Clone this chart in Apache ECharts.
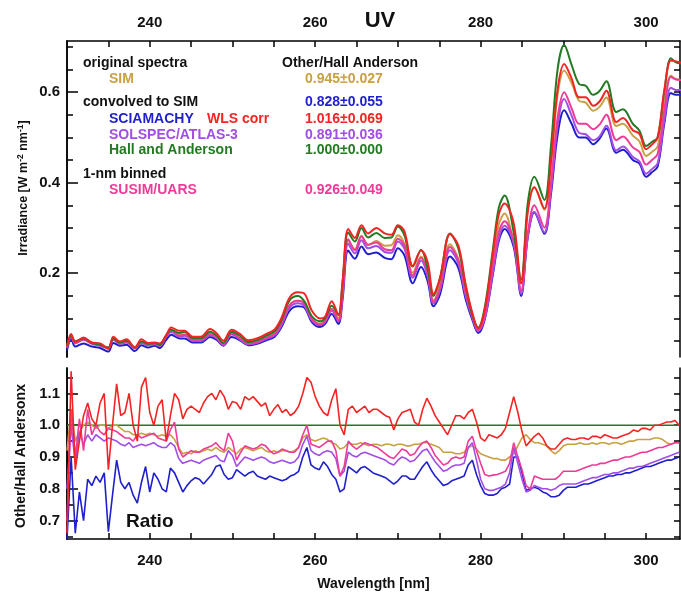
<!DOCTYPE html>
<html>
<head>
<meta charset="utf-8">
<script src="https://cdn.jsdelivr.net/npm/echarts/dist/echarts.min.js"></script>
<style>
html,body{margin:0;padding:0;background:#fff;}
#chart{width:681px;height:592px;}
</style>
</head>
<body>
<div id="chart"></div>
<script>
// ---------- DATA ----------
const topWl = [230,230.5,231,232,233,234,235,235.6,236.4,237.2,
238.2,239,239.8,240.6,241.2,242,242.6,243.6,244.2,245.2,
246.2,247.3,248.1,248.9,249.9,250.9,251.9,253.1,254.1,255.1,
255.9,256.9,257.9,258.7,259.6,260.6,261.2,262,262.8,263.3,
264,264.8,265.6,266.4,267.4,268.4,269.2,270,270.8,271.8,
272.8,273.6,274.3,275.1,276.3,277.3,278.2,279,279.7,280.5,
281.5,282.2,282.9,284,284.9,285.7,286.5,287.7,288.5,289.3,
290.1,291,291.9,292.7,293.6,294.4,295.2,296.4,297.2,298.4,
299.2,300,300.7,301.4,302.2,303,303.6,304.3];

const irrHA = [0.040,0.062,0.050,0.056,0.046,0.042,0.036,0.056,0.047,0.051,
0.036,0.049,0.044,0.046,0.042,0.064,0.075,0.068,0.071,0.057,
0.057,0.071,0.062,0.046,0.071,0.062,0.048,0.053,0.062,0.072,
0.095,0.140,0.150,0.138,0.105,0.094,0.101,0.128,0.108,0.180,
0.290,0.270,0.300,0.279,0.289,0.278,0.279,0.303,0.283,0.215,
0.252,0.210,0.150,0.190,0.288,0.255,0.170,0.108,0.080,0.125,
0.255,0.345,0.372,0.290,0.186,0.355,0.413,0.362,0.480,0.650,
0.704,0.660,0.618,0.614,0.594,0.603,0.624,0.556,0.562,0.530,
0.515,0.481,0.490,0.500,0.600,0.675,0.666,0.663];

const irrWLS = [0.038,0.066,0.048,0.058,0.047,0.045,0.033,0.060,0.049,0.054,
0.036,0.054,0.046,0.047,0.045,0.063,0.080,0.073,0.073,0.060,
0.060,0.077,0.067,0.051,0.075,0.066,0.052,0.057,0.066,0.076,
0.100,0.146,0.158,0.155,0.117,0.100,0.104,0.138,0.108,0.178,
0.298,0.278,0.306,0.288,0.300,0.288,0.285,0.306,0.292,0.216,
0.250,0.224,0.154,0.190,0.286,0.262,0.174,0.112,0.078,0.119,
0.246,0.330,0.354,0.310,0.178,0.335,0.390,0.343,0.446,0.605,
0.662,0.630,0.589,0.589,0.570,0.580,0.603,0.534,0.543,0.516,
0.508,0.474,0.484,0.500,0.604,0.670,0.668,0.665];

const irrSIM = [0.037,0.062,0.048,0.056,0.046,0.042,0.035,0.056,0.046,0.050,
0.035,0.047,0.043,0.045,0.041,0.062,0.072,0.064,0.065,0.052,
0.053,0.065,0.057,0.042,0.065,0.057,0.045,0.049,0.057,0.066,
0.087,0.129,0.139,0.133,0.100,0.089,0.097,0.121,0.100,0.167,
0.273,0.253,0.283,0.262,0.271,0.261,0.262,0.284,0.265,0.201,
0.237,0.198,0.140,0.176,0.264,0.232,0.156,0.101,0.074,0.113,
0.228,0.308,0.332,0.265,0.178,0.344,0.390,0.340,0.442,0.594,
0.648,0.620,0.581,0.577,0.559,0.568,0.588,0.525,0.530,0.504,
0.491,0.459,0.468,0.480,0.573,0.636,0.629,0.627];

const irrSUSIM = [0.036,0.062,0.046,0.054,0.045,0.041,0.035,0.055,0.045,0.049,
0.035,0.047,0.043,0.045,0.040,0.061,0.074,0.062,0.064,0.053,
0.053,0.066,0.058,0.043,0.068,0.056,0.045,0.049,0.058,0.066,
0.088,0.129,0.139,0.133,0.099,0.087,0.095,0.121,0.095,0.152,
0.275,0.251,0.281,0.263,0.268,0.253,0.251,0.276,0.261,0.195,
0.234,0.199,0.137,0.168,0.258,0.229,0.155,0.104,0.074,0.106,
0.215,0.291,0.315,0.270,0.162,0.287,0.350,0.301,0.398,0.543,
0.600,0.564,0.530,0.530,0.518,0.529,0.550,0.494,0.502,0.478,
0.468,0.440,0.450,0.464,0.558,0.634,0.628,0.627];

const irrSOLSPEC = [0.035,0.060,0.045,0.053,0.044,0.040,0.034,0.053,0.044,0.047,
0.034,0.046,0.041,0.043,0.039,0.060,0.070,0.060,0.062,0.051,
0.050,0.063,0.056,0.041,0.065,0.054,0.043,0.047,0.055,0.063,
0.084,0.124,0.134,0.128,0.096,0.085,0.092,0.117,0.094,0.150,
0.265,0.244,0.273,0.255,0.260,0.247,0.245,0.270,0.254,0.190,
0.228,0.193,0.133,0.163,0.251,0.223,0.150,0.102,0.072,0.100,
0.204,0.278,0.305,0.265,0.155,0.281,0.336,0.290,0.383,0.525,
0.585,0.548,0.510,0.507,0.494,0.503,0.526,0.471,0.480,0.457,
0.447,0.420,0.430,0.443,0.537,0.610,0.605,0.605];

const irrSCIA = [0.030,0.055,0.038,0.045,0.038,0.035,0.027,0.046,0.040,0.042,
0.028,0.041,0.036,0.040,0.035,0.053,0.064,0.056,0.056,0.047,
0.047,0.059,0.053,0.040,0.059,0.052,0.041,0.045,0.052,0.060,
0.080,0.117,0.127,0.124,0.092,0.081,0.088,0.110,0.088,0.140,
0.250,0.232,0.259,0.242,0.246,0.234,0.231,0.255,0.239,0.178,
0.214,0.182,0.127,0.154,0.237,0.212,0.142,0.097,0.068,0.098,
0.199,0.272,0.298,0.258,0.150,0.280,0.334,0.287,0.374,0.505,
0.560,0.530,0.500,0.500,0.485,0.498,0.520,0.466,0.473,0.450,
0.442,0.413,0.423,0.436,0.530,0.598,0.594,0.594];

const ratioWl = [230,230.5,231,231.5,232,232.5,233,233.5,234,234.5,
235,235.5,236,236.5,237,237.5,238,238.5,239,239.5,
240,240.5,241,241.5,242,242.5,243,243.5,244,244.5,
245,245.5,246,246.5,247,247.5,248,248.5,249,249.5,
250,250.5,251,251.5,252,252.5,253,253.5,254,254.5,
255,255.5,256,256.5,257,257.5,258,258.5,259,259.5,
260,260.5,261,261.5,262,262.5,263,263.5,264,264.5,
265,265.5,266,266.5,267,267.5,268,268.5,269,269.5,
270,270.5,271,271.5,272,272.5,273,273.5,274,274.5,
275,275.5,276,276.5,277,277.5,278,278.5,279,279.5,
280,280.5,281,281.5,282,282.5,283,283.5,284,284.5,
285,285.5,286,286.5,287,287.5,288,288.5,289,289.5,
290,290.5,291,291.5,292,292.5,293,293.5,294,294.5,
295,295.5,296,296.5,297,297.5,298,298.5,299,299.5,
300,300.5,301,301.5,302,302.5,303,303.5,304];

const ratioWLS = [0.66,1.17,0.86,0.95,1.03,1.07,1.02,1.0,1.07,1.10,
0.86,1.0,1.13,1.03,1.04,1.10,1.0,0.95,1.12,1.15,
1.04,1.0,1.06,1.08,0.95,1.03,1.10,1.08,1.02,1.05,
1.06,1.05,1.04,1.07,1.09,1.10,1.08,1.11,1.09,1.05,
1.075,1.07,1.05,1.09,1.08,1.09,1.075,1.06,1.07,1.03,
1.05,1.065,1.04,1.05,1.03,1.04,1.06,1.10,1.15,1.135,
1.09,1.06,1.04,1.03,1.08,1.115,1.0,0.97,1.05,1.06,
1.04,1.05,1.06,1.04,1.05,1.05,1.04,1.03,1.025,0.985,
1.02,1.04,1.045,1.05,1.01,1.0,1.05,1.085,1.06,1.03,
1.01,0.99,0.97,1.0,1.03,1.03,1.02,1.04,1.05,1.01,
0.96,0.95,0.97,0.965,0.96,0.97,0.99,1.04,1.09,1.04,
0.98,0.935,0.95,0.965,0.975,0.96,0.935,0.925,0.925,0.94,
0.955,0.96,0.955,0.955,0.96,0.96,0.955,0.965,0.965,0.96,
0.97,0.965,0.96,0.96,0.965,0.97,0.975,0.985,0.98,0.99,
0.99,0.985,1.0,1.0,1.005,1.01,1.01,1.015,1.0];

const ratioSIM = [0.92,1.05,0.95,0.98,1.0,1.01,1.0,0.99,1.0,1.0,
0.99,1.0,1.0,0.99,0.98,0.98,0.97,0.97,0.975,0.97,
0.975,0.97,0.965,0.97,0.965,0.97,0.955,0.93,0.91,0.915,
0.91,0.92,0.915,0.92,0.925,0.92,0.93,0.92,0.915,0.93,
0.92,0.91,0.925,0.93,0.925,0.92,0.925,0.93,0.92,0.915,
0.92,0.915,0.92,0.92,0.915,0.92,0.93,0.96,0.97,0.955,
0.95,0.955,0.96,0.955,0.945,0.94,0.925,0.93,0.945,0.94,
0.94,0.945,0.94,0.935,0.94,0.94,0.935,0.94,0.94,0.935,
0.94,0.94,0.935,0.935,0.94,0.94,0.945,0.945,0.94,0.935,
0.93,0.915,0.915,0.915,0.91,0.91,0.915,0.93,0.935,0.925,
0.91,0.905,0.9,0.895,0.895,0.89,0.89,0.9,0.91,0.935,
0.96,0.97,0.955,0.945,0.945,0.94,0.935,0.92,0.91,0.92,
0.935,0.94,0.94,0.94,0.945,0.94,0.94,0.945,0.94,0.945,
0.945,0.94,0.945,0.945,0.94,0.945,0.95,0.95,0.955,0.955,
0.955,0.955,0.96,0.96,0.955,0.945,0.94,0.945,0.945];

const ratioSUSIM = [0.70,1.05,0.90,1.02,0.92,1.05,0.97,1.0,0.98,0.97,
0.99,0.985,0.98,0.97,0.96,0.96,0.95,0.97,0.96,0.965,
0.97,0.975,0.96,0.955,0.95,0.985,1.01,0.925,0.90,0.91,
0.92,0.915,0.915,0.925,0.93,0.935,0.945,0.93,0.92,0.975,
0.95,0.89,0.915,0.935,0.93,0.925,0.93,0.94,0.935,0.92,
0.91,0.915,0.925,0.92,0.915,0.915,0.93,0.97,1.0,0.94,
0.935,0.93,0.94,0.95,0.95,0.92,0.84,0.87,0.95,0.935,
0.925,0.935,0.945,0.94,0.935,0.93,0.92,0.91,0.9,0.895,
0.91,0.925,0.92,0.905,0.91,0.93,0.945,0.95,0.93,0.905,
0.89,0.875,0.88,0.895,0.9,0.895,0.9,0.95,0.965,0.92,
0.88,0.845,0.84,0.843,0.845,0.85,0.855,0.88,0.945,0.9,
0.86,0.81,0.8,0.84,0.835,0.83,0.83,0.83,0.83,0.84,
0.855,0.855,0.855,0.855,0.86,0.865,0.87,0.875,0.875,0.88,
0.88,0.885,0.89,0.89,0.895,0.9,0.9,0.905,0.91,0.915,
0.915,0.92,0.925,0.93,0.93,0.935,0.94,0.945,0.945];

const ratioSOLSPEC = [0.80,1.0,0.88,0.98,0.94,0.97,0.95,0.97,0.96,0.95,
0.96,0.955,0.95,0.94,0.935,0.945,0.93,0.935,0.94,0.935,
0.94,0.945,0.935,0.93,0.93,0.945,0.935,0.895,0.88,0.885,
0.89,0.885,0.88,0.89,0.895,0.9,0.905,0.89,0.885,0.92,
0.905,0.87,0.885,0.9,0.895,0.89,0.895,0.9,0.895,0.885,
0.88,0.885,0.89,0.885,0.88,0.885,0.9,0.94,0.965,0.92,
0.91,0.905,0.915,0.92,0.915,0.895,0.84,0.855,0.915,0.905,
0.9,0.91,0.915,0.91,0.905,0.9,0.895,0.89,0.88,0.875,
0.89,0.9,0.895,0.885,0.89,0.905,0.92,0.925,0.905,0.885,
0.87,0.855,0.86,0.87,0.875,0.875,0.88,0.93,0.945,0.89,
0.83,0.8,0.795,0.795,0.8,0.805,0.815,0.85,0.93,0.88,
0.83,0.79,0.795,0.81,0.805,0.8,0.8,0.795,0.8,0.81,
0.815,0.815,0.815,0.815,0.82,0.825,0.83,0.835,0.835,0.84,
0.845,0.845,0.85,0.85,0.855,0.86,0.865,0.865,0.87,0.87,
0.875,0.88,0.885,0.89,0.895,0.9,0.905,0.91,0.915];

const ratioSCIA = [0.64,0.90,0.66,0.79,0.70,0.83,0.81,0.84,0.82,0.85,
0.665,0.78,0.89,0.82,0.80,0.82,0.78,0.755,0.82,0.87,
0.79,0.85,0.83,0.8,0.79,0.865,0.85,0.82,0.79,0.81,
0.825,0.835,0.83,0.815,0.83,0.845,0.87,0.875,0.845,0.83,
0.835,0.86,0.85,0.84,0.85,0.855,0.84,0.835,0.83,0.84,
0.835,0.83,0.825,0.83,0.84,0.845,0.855,0.9,0.93,0.875,
0.865,0.86,0.885,0.87,0.845,0.83,0.79,0.8,0.87,0.86,
0.85,0.865,0.87,0.86,0.85,0.845,0.84,0.835,0.825,0.815,
0.825,0.84,0.84,0.83,0.83,0.85,0.87,0.885,0.86,0.84,
0.825,0.81,0.815,0.825,0.83,0.835,0.84,0.875,0.89,0.845,
0.81,0.785,0.78,0.78,0.785,0.8,0.805,0.815,0.9,0.9,
0.85,0.795,0.8,0.805,0.8,0.79,0.785,0.775,0.775,0.78,
0.795,0.805,0.805,0.805,0.81,0.815,0.815,0.82,0.825,0.83,
0.835,0.84,0.84,0.845,0.845,0.85,0.85,0.855,0.86,0.865,
0.87,0.87,0.875,0.88,0.885,0.89,0.89,0.895,0.9];

const haRatioWl = [230, 304.1];
const haRatio = [1.0, 1.0];

// tick values / labels
const xTickVals = [235,240,245,250,255,260,265,270,275,280,285,290,295,300];
const xLabelVals = [240,260,280,300];
const topYLabelVals = [0.2,0.4,0.6];
const topYMinorVals = [0.05,0.1,0.15,0.25,0.3,0.35,0.45,0.5,0.55,0.65,0.7];
const topYAllVals = [0.05,0.1,0.15,0.2,0.25,0.3,0.35,0.4,0.45,0.5,0.55,0.6,0.65,0.7];
const botYLabelVals = [0.7,0.8,0.9,1.0,1.1];
const botYMinorVals = [0.65,0.75,0.85,0.95,1.05,1.15];
const botYAllVals = [0.65,0.7,0.75,0.8,0.85,0.9,0.95,1.0,1.05,1.1,1.15];

// ---------- STYLE ----------
const C = {
  sim: '#c9a043', scia: '#1f1fcc', wls: '#f42424',
  solspec: '#a24de6', ha: '#237a23', susim: '#ef3a98'
};
const FONT = '"Liberation Sans", Arial, Helvetica, sans-serif';
const zip = (xs, ys) => ys.map((y, i) => [xs[i], y]);

const chart = echarts.init(document.getElementById('chart'), null, {renderer: 'canvas'});

const axLine = {show: true, lineStyle: {color: '#000', width: 1.5}};
const labelStyle = {color: '#111', fontSize: 15, fontWeight: 'bold', fontFamily: FONT};

function yAx(grid, min, max, pos, tickVals, len, labelVals) {
  return {
    type: 'value', gridIndex: grid, min: min, max: max, position: pos,
    axisLine: axLine, splitLine: {show: false},
    axisTick: {show: true, inside: true, length: len, customValues: tickVals,
               lineStyle: {color: '#000', width: 1.5}},
    axisLabel: labelVals ? Object.assign({show: true, margin: 7, customValues: labelVals,
               formatter: v => Number(v).toFixed(1)}, labelStyle) : {show: false}
  };
}

const X_MIN = 230, X_MAX = 304.1;

const option = {
  animation: false,
  backgroundColor: '#fff',
  grid: [
    {left: 67, top: 41, width: 613, height: 316},
    {left: 67, top: 368, width: 613, height: 173}
  ],
  xAxis: [
    {type: 'value', gridIndex: 0, position: 'top', min: X_MIN, max: X_MAX,
     axisLine: axLine, splitLine: {show: false},
     axisTick: {show: true, inside: true, length: 6, customValues: xTickVals, lineStyle: {color: '#000', width: 1.5}},
     axisLabel: Object.assign({show: true, margin: 11, customValues: xLabelVals}, labelStyle)},
    {type: 'value', gridIndex: 0, position: 'bottom', min: X_MIN, max: X_MAX, show: false},
    {type: 'value', gridIndex: 1, position: 'bottom', min: X_MIN, max: X_MAX,
     axisLine: axLine, splitLine: {show: false},
     axisTick: {show: true, inside: true, length: 6, customValues: xTickVals, lineStyle: {color: '#000', width: 1.5}},
     axisLabel: Object.assign({show: true, margin: 14, customValues: xLabelVals}, labelStyle),
     name: 'Wavelength [nm]', nameLocation: 'middle', nameGap: 38,
     nameTextStyle: {color: '#111', fontSize: 14, fontWeight: 'bold', fontFamily: FONT}}
  ],
  yAxis: [
    yAx(0, 0.015, 0.713, 'left', topYLabelVals, 11, topYLabelVals),
    yAx(0, 0.015, 0.713, 'left', topYMinorVals, 6, null),
    yAx(0, 0.015, 0.713, 'right', topYAllVals, 6, null),
    yAx(1, 0.642, 1.18, 'left', botYLabelVals, 11, botYLabelVals),
    yAx(1, 0.642, 1.18, 'left', botYMinorVals, 6, null),
    yAx(1, 0.642, 1.18, 'right', botYAllVals, 6, null)
  ],
  series: [
    // top panel
    {type: 'line', xAxisIndex: 0, yAxisIndex: 0, name: 'SIM', data: zip(topWl, irrSIM), color: C.sim},
    {type: 'line', xAxisIndex: 0, yAxisIndex: 0, name: 'SCIAMACHY', data: zip(topWl, irrSCIA), color: C.scia},
    {type: 'line', xAxisIndex: 0, yAxisIndex: 0, name: 'SOLSPEC/ATLAS-3', data: zip(topWl, irrSOLSPEC), color: C.solspec},
    {type: 'line', xAxisIndex: 0, yAxisIndex: 0, name: 'SUSIM/UARS', data: zip(topWl, irrSUSIM), color: C.susim},
    {type: 'line', xAxisIndex: 0, yAxisIndex: 0, name: 'Hall and Anderson', data: zip(topWl, irrHA), color: C.ha},
    {type: 'line', xAxisIndex: 0, yAxisIndex: 0, name: 'WLS corr', data: zip(topWl, irrWLS), color: C.wls},
    // bottom panel
    {type: 'line', xAxisIndex: 2, yAxisIndex: 3, name: 'r HA', data: zip(haRatioWl, haRatio), color: C.ha, smooth: false},
    {type: 'line', xAxisIndex: 2, yAxisIndex: 3, name: 'r SIM', data: zip(ratioWl, ratioSIM), color: C.sim, smooth: false},
    {type: 'line', xAxisIndex: 2, yAxisIndex: 3, name: 'r SCIA', data: zip(ratioWl, ratioSCIA), color: C.scia, smooth: false},
    {type: 'line', xAxisIndex: 2, yAxisIndex: 3, name: 'r SOLSPEC', data: zip(ratioWl, ratioSOLSPEC), color: C.solspec, smooth: false},
    {type: 'line', xAxisIndex: 2, yAxisIndex: 3, name: 'r SUSIM', data: zip(ratioWl, ratioSUSIM), color: C.susim, smooth: false},
    {type: 'line', xAxisIndex: 2, yAxisIndex: 3, name: 'r WLS', data: zip(ratioWl, ratioWLS), color: C.wls, smooth: false}
  ].map(s => Object.assign({
    showSymbol: false, smooth: 0.35, clip: true,
    lineStyle: {width: s.xAxisIndex === 0 ? 2 : 1.6},
    emphasis: {disabled: true}
  }, s)),
  graphic: [
    {type: 'text', x: 380, y: 21, style: {text: 'UV', fill: '#111', font: 'bold 22px ' + FONT, textAlign: 'center', textVerticalAlign: 'middle'}},
    {type: 'text', x: 24, y: 188, rotation: Math.PI / 2,
     style: {text: 'Irradiance [W m{sup|-2} nm{sup|-1}]', fill: '#111', font: 'bold 12.5px ' + FONT,
             textAlign: 'center', textVerticalAlign: 'middle',
             rich: {sup: {fontSize: 8.5, fontWeight: 'bold', fontFamily: FONT, fill: '#111', padding: [0, 0, 7, 0]}}}},
    {type: 'text', x: 21, y: 456, rotation: Math.PI / 2,
     style: {text: 'Other/Hall Andersonx', fill: '#111', font: 'bold 14px ' + FONT, textAlign: 'center', textVerticalAlign: 'middle'}},
    {type: 'text', x: 126, y: 522, style: {text: 'Ratio', fill: '#111', font: 'bold 19px ' + FONT, textAlign: 'left', textVerticalAlign: 'middle'}},
    // legend block
    {type: 'text', x: 83, y: 63, style: {text: 'original spectra', fill: '#111', font: 'bold 14px ' + FONT, textVerticalAlign: 'middle'}},
    {type: 'text', x: 109, y: 79, style: {text: 'SIM', fill: C.sim, font: 'bold 14px ' + FONT, textVerticalAlign: 'middle'}},
    {type: 'text', x: 83, y: 102, style: {text: 'convolved to SIM', fill: '#111', font: 'bold 14px ' + FONT, textVerticalAlign: 'middle'}},
    {type: 'text', x: 109, y: 119, style: {text: 'SCIAMACHY', fill: C.scia, font: 'bold 14px ' + FONT, textVerticalAlign: 'middle'}},
    {type: 'text', x: 207, y: 119, style: {text: 'WLS corr', fill: C.wls, font: 'bold 14px ' + FONT, textVerticalAlign: 'middle'}},
    {type: 'text', x: 109, y: 135, style: {text: 'SOLSPEC/ATLAS-3', fill: C.solspec, font: 'bold 14px ' + FONT, textVerticalAlign: 'middle'}},
    {type: 'text', x: 109, y: 150, style: {text: 'Hall and Anderson', fill: C.ha, font: 'bold 14px ' + FONT, textVerticalAlign: 'middle'}},
    {type: 'text', x: 83, y: 174, style: {text: '1-nm binned', fill: '#111', font: 'bold 14px ' + FONT, textVerticalAlign: 'middle'}},
    {type: 'text', x: 109, y: 190, style: {text: 'SUSIM/UARS', fill: C.susim, font: 'bold 14px ' + FONT, textVerticalAlign: 'middle'}},
    {type: 'text', x: 282, y: 63, style: {text: 'Other/Hall Anderson', fill: '#111', font: 'bold 14px ' + FONT, textVerticalAlign: 'middle'}},
    {type: 'text', x: 305, y: 79, style: {text: '0.945\u00b10.027', fill: C.sim, font: 'bold 14px ' + FONT, textVerticalAlign: 'middle'}},
    {type: 'text', x: 305, y: 102, style: {text: '0.828\u00b10.055', fill: C.scia, font: 'bold 14px ' + FONT, textVerticalAlign: 'middle'}},
    {type: 'text', x: 305, y: 119, style: {text: '1.016\u00b10.069', fill: C.wls, font: 'bold 14px ' + FONT, textVerticalAlign: 'middle'}},
    {type: 'text', x: 305, y: 135, style: {text: '0.891\u00b10.036', fill: C.solspec, font: 'bold 14px ' + FONT, textVerticalAlign: 'middle'}},
    {type: 'text', x: 305, y: 150, style: {text: '1.000\u00b10.000', fill: C.ha, font: 'bold 14px ' + FONT, textVerticalAlign: 'middle'}},
    {type: 'text', x: 305, y: 190, style: {text: '0.926\u00b10.049', fill: C.susim, font: 'bold 14px ' + FONT, textVerticalAlign: 'middle'}}
  ]
};
chart.setOption(option);
</script>
</body>
</html>
